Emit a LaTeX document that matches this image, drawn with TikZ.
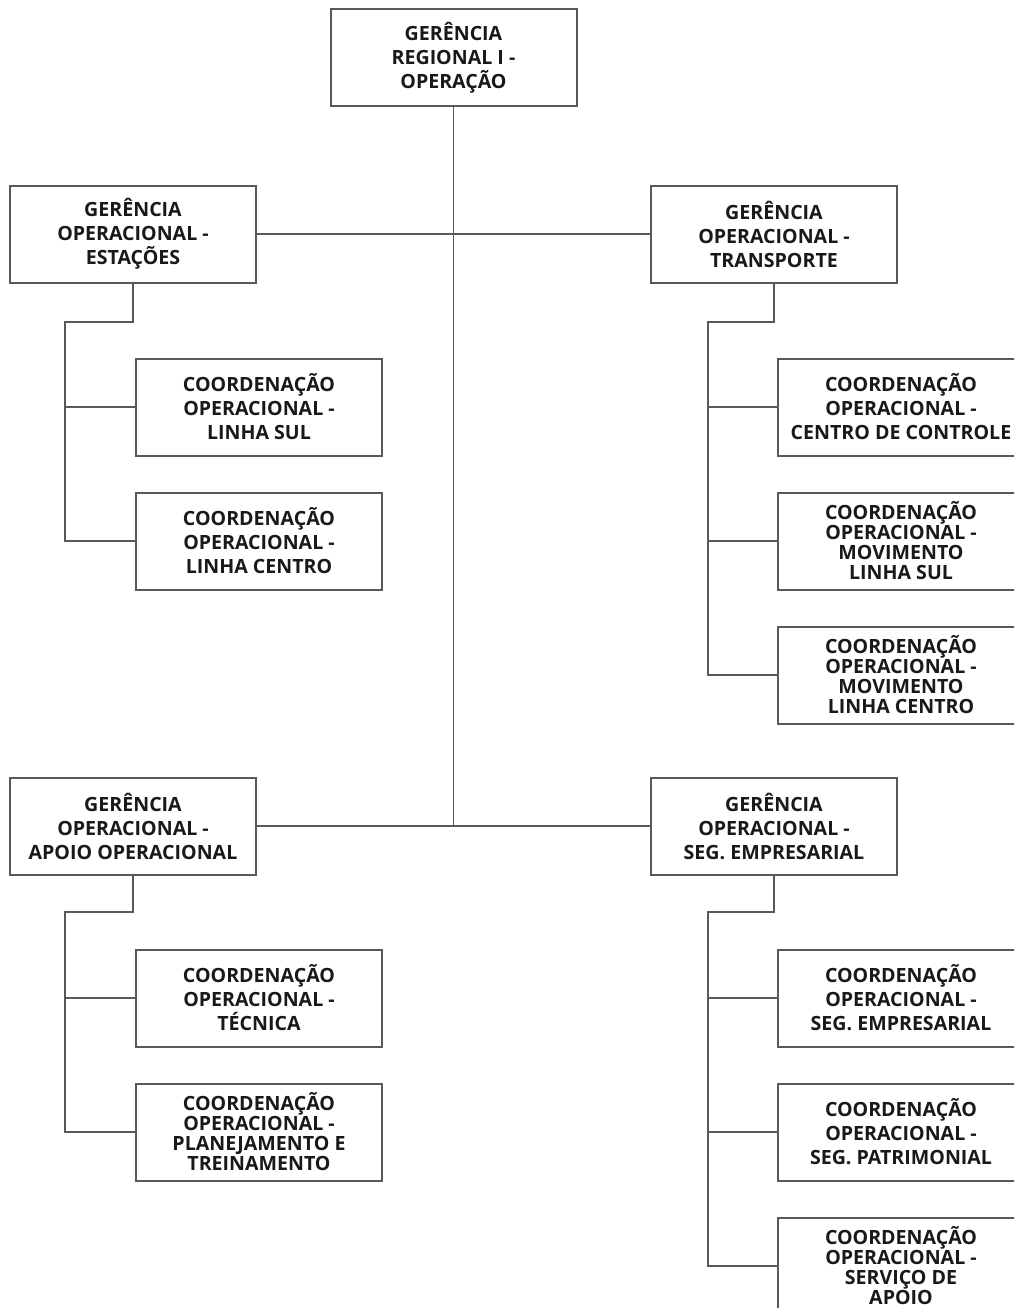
\documentclass[tikz,border=0pt]{standalone}
\usepackage{fontspec}
\setmainfont{Open Sans}
\usepackage{tikz}

\begin{document}
\begin{tikzpicture}[x=0.5pt,y=-0.5pt,
    unit/.style={draw=black!65, line width=1pt, fill=white, minimum width=123pt,
        minimum height=48.5pt, inner sep=0pt, align=center,
        font=\bfseries\fontsize{9.8}{12}\selectfont, text=black!90},
    tight/.style={unit, font=\bfseries\fontsize{9.8}{10}\selectfont},
    link/.style={draw=black!65, line width=0.8pt}]
    \useasboundingbox (0,0) rectangle (1014,1308);
    \clip (0,0) rectangle (1014,1308);

    % gerencias
    \node[unit] (reg) at (453.5,57.5) {GERÊNCIA\\REGIONAL I -\\OPERAÇÃO};
    \node[unit] (est) at (133,234) {GERÊNCIA\\OPERACIONAL -\\ESTAÇÕES};
    \node[unit] (trn) at (774,234) {GERÊNCIA\\OPERACIONAL -\\TRANSPORTE};
    \node[unit] (apo) at (133,826) {GERÊNCIA\\OPERACIONAL -\\APOIO OPERACIONAL};
    \node[unit] (seg) at (774,826) {GERÊNCIA\\OPERACIONAL -\\SEG. EMPRESARIAL};

    % coordenacoes
    \node[unit] (lsul) at (259,407) {COORDENAÇÃO\\OPERACIONAL -\\LINHA SUL};
    \node[unit] (lcen) at (259,541) {COORDENAÇÃO\\OPERACIONAL -\\LINHA CENTRO};
    \node[unit] (tec) at (259,998) {COORDENAÇÃO\\OPERACIONAL -\\TÉCNICA};
    \node[tight] (plan) at (259,1132) {COORDENAÇÃO\\OPERACIONAL -\\PLANEJAMENTO E\\TREINAMENTO};

    \node[unit] (ctrl) at (901,407) {COORDENAÇÃO\\OPERACIONAL -\\CENTRO DE CONTROLE};
    \node[tight] (msul) at (901,541) {COORDENAÇÃO\\OPERACIONAL -\\MOVIMENTO\\LINHA SUL};
    \node[tight] (mcen) at (901,675) {COORDENAÇÃO\\OPERACIONAL -\\MOVIMENTO\\LINHA CENTRO};
    \node[unit] (semp) at (901,998) {COORDENAÇÃO\\OPERACIONAL -\\SEG. EMPRESARIAL};
    \node[unit] (spat) at (901,1132) {COORDENAÇÃO\\OPERACIONAL -\\SEG. PATRIMONIAL};
    \node[tight] (sapo) at (901,1266) {COORDENAÇÃO\\OPERACIONAL -\\SERVIÇO DE\\APOIO};

    % ligacoes principais
    \draw[link] (reg.south) -- (reg.south |- apo.east);
    \draw[link] (est.east) -- (trn.west);
    \draw[link] (apo.east) -- (seg.west);

    % ramos
    \coordinate (kest) at (65,322);
    \draw[link] (est.south) |- (kest) -- (kest |- lcen.west) -- (lcen.west);
    \draw[link] (kest |- lsul.west) -- (lsul.west);

    \coordinate (ktrn) at (708,322);
    \draw[link] (trn.south) |- (ktrn) -- (ktrn |- mcen.west) -- (mcen.west);
    \draw[link] (ktrn |- ctrl.west) -- (ctrl.west);
    \draw[link] (ktrn |- msul.west) -- (msul.west);

    \coordinate (kapo) at (65,912);
    \draw[link] (apo.south) |- (kapo) -- (kapo |- plan.west) -- (plan.west);
    \draw[link] (kapo |- tec.west) -- (tec.west);

    \coordinate (kseg) at (708,912);
    \draw[link] (seg.south) |- (kseg) -- (kseg |- sapo.west) -- (sapo.west);
    \draw[link] (kseg |- semp.west) -- (semp.west);
    \draw[link] (kseg |- spat.west) -- (spat.west);
\end{tikzpicture}
\end{document}
